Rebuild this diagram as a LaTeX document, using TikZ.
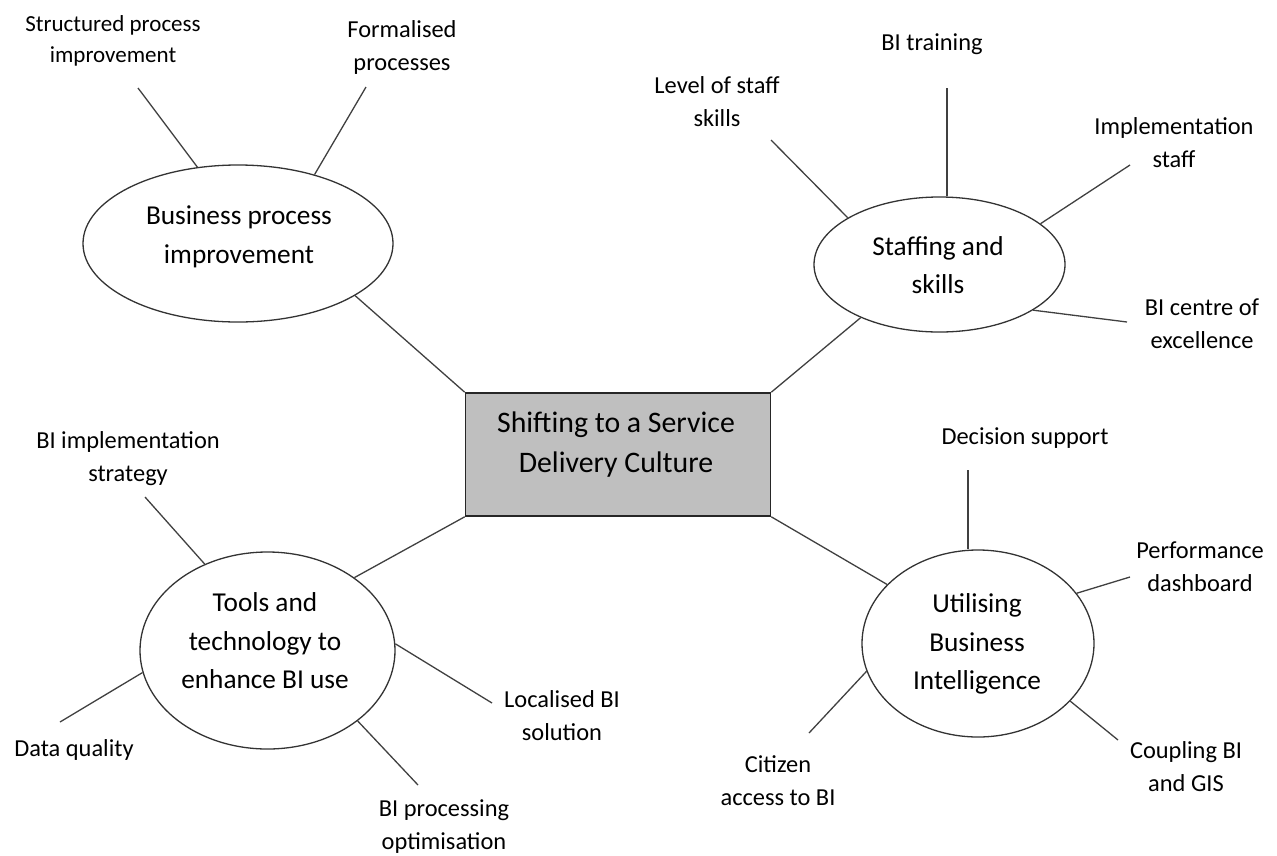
\documentclass[tikz,border=0pt]{standalone}
\usepackage{fontspec}
\setmainfont{Carlito}
\usetikzlibrary{shapes.geometric}

\begin{document}
\begin{tikzpicture}[
x=1pt,
y=-1pt,
core/.style={
  draw=black!85,
  line width=1.6pt,
  fill=black!25,
  minimum width=305pt,
  minimum height=123pt,
  inner sep=0pt
  },
topic/.style={
  draw=black!80,
  ellipse,
  line width=1.3pt,
  inner sep=0pt
  },
caption/.style={
  align=center,
  inner sep=0pt,
  font=\fontsize{27.3}{38.5}\selectfont
  },
leaf/.style={
  align=center,
  inner sep=0pt,
  font=\fontsize{24.4}{33}\selectfont
  },
spoke/.style={
  draw=black!75,
  line width=1.3pt
  }
]
\useasboundingbox (0,0) rectangle (1277,855);

\node[core] (svc) at (618,454.5) {};
\node[caption, font=\fontsize{29.8}{40}\selectfont] (svc-txt) at (616,445)
  {Shifting to a Service\\Delivery Culture};

\node[topic, minimum width=310pt, minimum height=157pt] (bpi) at (238,243.5) {};
\node[caption] (bpi-txt) at (239,237) {Business process\\improvement};

\node[topic, minimum width=251pt, minimum height=135pt] (staff) at (939.5,264.5) {};
\node[caption] (staff-txt) at (938,265) {Staffing and\\skills};

\node[topic, minimum width=255pt, minimum height=197pt] (tools) at (267.5,650.5) {};
\node[caption] (tools-txt) at (265,641) {Tools and\\technology to\\enhance BI use};

\node[topic, minimum width=232pt, minimum height=187pt] (util) at (978,643.5) {};
\node[caption] (util-txt) at (977,644) {Utilising\\Business\\Intelligence};

\node[leaf, font=\fontsize{23}{31}\selectfont] (spi) at (113,41) {Structured process\\improvement};
\node[leaf] (fp) at (402,47) {Formalised\\processes};
\node[leaf] (lss) at (717,102) {Level of staff\\skills};
\node[leaf] (bit) at (932,44) {BI training};
\node[leaf] (impl) at (1174,143) {Implementation\\staff};
\node[leaf] (bice) at (1202,324) {BI centre of\\excellence};
\node[leaf] (bis) at (128,459) {BI implementation\\strategy};
\node[leaf] (dq) at (74,750) {Data quality};
\node[leaf] (lbi) at (562,716) {Localised BI\\solution};
\node[leaf] (bpo) at (444,827) {BI processing\\optimisation};
\node[leaf] (ds) at (1025,438) {Decision support};
\node[leaf] (pd) at (1200,567) {Performance\\dashboard};
\node[leaf] (cbg) at (1186,767) {Coupling BI\\and GIS};
\node[leaf] (cab) at (778,781) {Citizen\\access to BI};

\coordinate (spi-end) at (138,88);
\coordinate (fp-end) at (366,87);
\coordinate (lss-end) at (771,140);
\coordinate (bit-end) at (947,88);
\coordinate (impl-end) at (1130,165);
\coordinate (bice-end) at (1127,322);
\coordinate (bis-end) at (145,497);
\coordinate (dq-end) at (60,722);
\coordinate (lbi-end) at (492,703);
\coordinate (bpo-end) at (418,785);
\coordinate (ds-end) at (968,470);
\coordinate (pd-end) at (1130,577);
\coordinate (cbg-end) at (1118,740);
\coordinate (cab-end) at (809,733);

\draw[spoke] (bpi.-24.9) -- (svc.north west);
\draw[spoke] (staff.-146.6) -- (svc.north east);
\draw[spoke] (tools.40.7) -- (svc.south west);
\draw[spoke] (util.147.8) -- (svc.south east);

\foreach \tip/\hub/\ang in {spi-end/bpi/118.2, fp-end/bpi/42.1,
  lss-end/staff/153.6, impl-end/staff/22.6, bice-end/staff/-26.7,
  bis-end/tools/126.4, dq-end/tools/190.2, lbi-end/tools/3.9, bpo-end/tools/-38.9,
  pd-end/util/27, cbg-end/util/-32.7, cab-end/util/194.9}
  \draw[spoke] (\tip) -- (\hub.\ang);
\draw[spoke] (bit-end) -- (bit-end |- staff.north);
\draw[spoke] (ds-end) -- (ds-end |- util.north);
\end{tikzpicture}
\end{document}
